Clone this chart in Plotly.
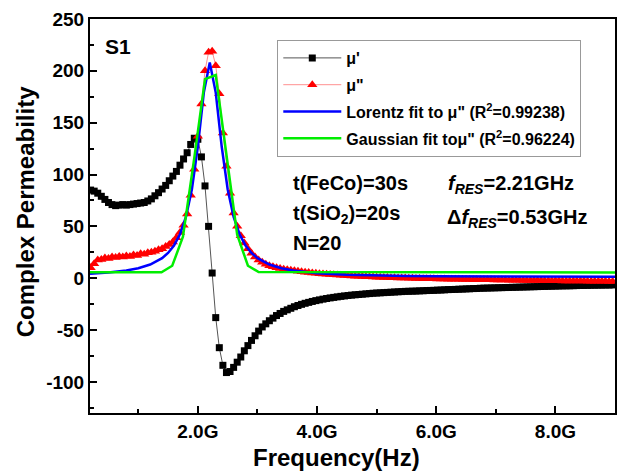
import plotly.graph_objects as go

# ---------------- data ----------------
freq_ghz = [
    0.20, 0.26, 0.32, 0.38, 0.44, 0.50, 0.56, 0.62, 0.68, 0.74,
    0.80, 0.86, 0.92, 0.98, 1.04, 1.10, 1.16, 1.22, 1.28, 1.34,
    1.40, 1.46, 1.52, 1.58, 1.64, 1.70, 1.76, 1.82, 1.88, 1.94,
    2.00, 2.06, 2.12, 2.18, 2.24, 2.30, 2.36, 2.42, 2.48, 2.54,
    2.60, 2.66, 2.72, 2.78, 2.84, 2.90, 2.96, 3.02, 3.08, 3.14,
    3.20, 3.26, 3.32, 3.38, 3.44, 3.50, 3.56, 3.62, 3.68, 3.74,
    3.80, 3.86, 3.92, 3.98, 4.04, 4.10, 4.16, 4.22, 4.28, 4.34,
    4.40, 4.46, 4.52, 4.58, 4.64, 4.70, 4.76, 4.82, 4.88, 4.94,
    5.00, 5.06, 5.12, 5.18, 5.24, 5.30, 5.36, 5.42, 5.48, 5.54,
    5.60, 5.66, 5.72, 5.78, 5.84, 5.90, 5.96, 6.02, 6.08, 6.14,
    6.20, 6.26, 6.32, 6.38, 6.44, 6.50, 6.56, 6.62, 6.68, 6.74,
    6.80, 6.86, 6.92, 6.98, 7.04, 7.10, 7.16, 7.22, 7.28, 7.34,
    7.40, 7.46, 7.52, 7.58, 7.64, 7.70, 7.76, 7.82, 7.88, 7.94,
    8.00, 8.06, 8.12, 8.18, 8.24, 8.30, 8.36, 8.42, 8.48, 8.54,
    8.60, 8.66, 8.72, 8.78, 8.84, 8.90, 8.96,
]

mu_real = [
    85, 84, 82, 79, 76, 73, 71, 70, 70.5, 71,
    70.5, 71, 71.5, 72, 72.5, 73, 74.5, 76.5, 79.5, 82.5,
    86, 89.5, 94, 98.5, 103, 109, 115, 121, 129, 135,
    134, 117, 89, 50, 5, -38, -67, -84, -91, -90,
    -86, -81, -76, -70, -65, -60, -55.5, -51, -47, -44,
    -41, -38.5, -36, -34, -32, -30.5, -29, -27.5, -26.3, -25.2,
    -24.2, -23.3, -22.4, -21.6, -20.9, -20.2, -19.6, -19, -18.5, -18,
    -17.5, -17.1, -16.7, -16.3, -16, -15.7, -15.4, -15.1, -14.8, -14.5,
    -14.3, -14.1, -13.9, -13.7, -13.5, -13.3, -13.1, -12.9, -12.7, -12.6,
    -12.5, -12.4, -12.2, -12.1, -11.9, -11.8, -11.7, -11.5, -11.4, -11.2,
    -11.0, -10.9, -10.8, -10.6, -10.5, -10.3, -10.2, -10.0, -9.9, -9.7,
    -9.6, -9.5, -9.4, -9.3, -9.2, -9.1, -9.0, -8.9, -8.8, -8.7,
    -8.6, -8.5, -8.4, -8.3, -8.2, -8.1, -8.0, -7.9, -7.8, -7.7,
    -7.6, -7.5, -7.4, -7.35, -7.3, -7.2, -7.1, -7.0, -6.95, -6.9,
    -6.8, -6.75, -6.7, -6.65, -6.6, -6.55, -6.5,
]

mu_imag = [
    10, 14, 17.5, 18, 19.5, 19, 20.5, 20, 21, 20.5,
    21.5, 21, 22.5, 22, 23.5, 23, 24.5, 25, 26, 27.5,
    28.5, 30.5, 32.5, 35, 39, 44, 51, 62, 80, 105,
    137, 168, 200, 218, 219, 205, 178, 140, 108, 82,
    63, 50, 41, 34, 28.5, 24, 20.5, 17.5, 15.5, 13.5,
    12, 11, 10, 9.3, 8.7, 8.1, 7.6, 7.1, 6.6, 6.2,
    5.8, 5.4, 5.0, 4.7, 4.4, 4.1, 3.8, 3.5, 3.3, 3.0,
    2.8, 2.6, 2.4, 2.2, 2.0, 1.8, 1.6, 1.5, 1.3, 1.2,
    1.0, 0.9, 0.8, 0.6, 0.5, 0.4, 0.3, 0.2, 0.1, 0.0,
    -0.1, -0.2, -0.3, -0.4, -0.5, -0.5, -0.6, -0.7, -0.8, -0.8,
    -0.9, -1.0, -1.0, -1.1, -1.2, -1.2, -1.3, -1.4, -1.4, -1.5,
    -1.5, -1.6, -1.6, -1.7, -1.7, -1.8, -1.8, -1.9, -1.9, -2.0,
    -2.0, -2.1, -2.1, -2.2, -2.2, -2.3, -2.3, -2.4, -2.4, -2.5,
    -2.5, -2.5, -2.6, -2.6, -2.7, -2.7, -2.7, -2.8, -2.8, -2.9,
    -2.9, -2.9, -3.0, -3.0, -3.0, -3.1, -3.1,
]

lorentz_freq = [0.19, 0.5, 0.8, 1.0, 1.2, 1.4, 1.5, 1.6, 1.7, 1.8, 1.9, 2.0, 2.1, 2.2,
                2.3, 2.4, 2.5, 2.6, 2.7, 2.8, 2.9, 3.0, 3.2, 3.4, 3.6, 3.8, 4.0, 4.5,
                5.0, 5.5, 6.0, 7.0, 8.0, 9.0]
lorentz_fit = [4.2, 5.4, 7.4, 9.6, 13.2, 19.4, 24.4, 31.6, 42.4, 59.1, 85.8, 127, 179, 208,
               179, 127, 85.8, 59.1, 42.4, 31.6, 24.4, 19.4, 13.2, 9.6, 7.4, 5.9, 4.9, 3.4,
               2.6, 2.2, 1.9, 1.6, 1.4, 1.3]

gauss_freq = [0.19, 1.39, 1.57, 1.75, 1.94, 2.12, 2.30, 2.48, 2.66, 2.84, 3.02, 9.0]
gauss_fit = [5.8, 5.8, 12, 40, 116, 192, 196, 118, 42, 12, 6, 5.5]

x_tick_vals = [2, 4, 6, 8]
x_tick_text = ["2.0G", "4.0G", "6.0G", "8.0G"]
x_minor_vals = [1, 3, 5, 7]
y_tick_vals = [-100, -50, 0, 50, 100, 150, 200, 250]
y_tick_text = ["-100", "-50", "0", "50", "100", "150", "200", "250"]
y_minor_vals = [-125, -75, -25, 25, 75, 125, 175, 225]

# ---------------- figure ----------------
FONT = "Liberation Sans, Arial, sans-serif"
L, R, T, B = 90, 2, 19, 59
W, H = 619, 472
pw, ph = W - L - R, H - T - B


def px_x(x):
    return (x - L) / pw


def px_y(y):
    return (H - B - y) / ph


fig = go.Figure()
fig.add_trace(go.Scatter(
    x=freq_ghz, y=mu_real, mode="lines+markers", name="μ'",
    line=dict(color="#555555", width=1),
    marker=dict(symbol="square", size=7, color="black"),
    legendgroup="g1"))
fig.add_trace(go.Scatter(
    x=freq_ghz, y=mu_imag, mode="lines+markers", name='μ"',
    line=dict(color="#ff9090", width=1),
    marker=dict(symbol="triangle-up", size=9, color="#ff0000"),
    legendgroup="g2"))
fig.add_trace(go.Scatter(
    x=lorentz_freq, y=lorentz_fit, mode="lines",
    name='Lorentz fit to μ" (R<sup>2</sup>=0.99238)',
    line=dict(color="#0000ff", width=2.5), legendgroup="g3"))
fig.add_trace(go.Scatter(
    x=gauss_freq, y=gauss_fit, mode="lines",
    name='Gaussian fit toμ" (R<sup>2</sup>=0.96224)',
    line=dict(color="#00ee00", width=2.5), legendgroup="g4"))

axis_common = dict(
    showline=True, linecolor="black", linewidth=2, mirror=True,
    ticks="inside", ticklen=7, tickwidth=2, tickcolor="black",
    showgrid=False, zeroline=False,
    tickfont=dict(family=FONT, size=19, color="black", weight="bold"),
)

fig.update_xaxes(
    range=[0.19, 9.0], tickmode="array", tickvals=x_tick_vals, ticktext=x_tick_text,
    minor=dict(tickmode="array", tickvals=x_minor_vals, ticks="inside", ticklen=4,
               tickwidth=2, tickcolor="black"),
    **axis_common)
fig.update_yaxes(
    range=[-130, 250], tickmode="array", tickvals=y_tick_vals, ticktext=y_tick_text,
    minor=dict(tickmode="array", tickvals=y_minor_vals, ticks="inside", ticklen=4,
               tickwidth=2, tickcolor="black"),
    **axis_common)

ann_font = dict(family=FONT, size=20, color="black", weight="bold")
annotations = [
    dict(text="S1", x=px_x(118), y=px_y(46), font=dict(family=FONT, size=21, color="black", weight="bold")),
    dict(text="t(FeCo)=30s", x=px_x(292), y=px_y(183), xanchor="left", font=ann_font),
    dict(text="t(SiO<sub>2</sub>)=20s", x=px_x(292), y=px_y(214), xanchor="left", font=ann_font),
    dict(text="N=20", x=px_x(292), y=px_y(243), xanchor="left", font=ann_font),
    dict(text="<i>f</i><sub><i>RES</i></sub>=2.21GHz", x=px_x(447), y=px_y(184), xanchor="left", font=ann_font),
    dict(text="Δ<i>f</i><sub><i>RES</i></sub>=0.53GHz", x=px_x(446), y=px_y(218), xanchor="left", font=ann_font),
    dict(text="Frequency(Hz)", x=px_x(337), y=px_y(457), font=dict(family=FONT, size=24, color="black", weight="bold")),
    dict(text="Complex Permeability", x=px_x(25), y=px_y(212), textangle=-90,
         font=dict(family=FONT, size=24, color="black", weight="bold")),
]
for a in annotations:
    a.setdefault("xanchor", "center")
    a.update(xref="paper", yref="paper", yanchor="middle", showarrow=False)

fig.update_layout(
    width=W, height=H,
    margin=dict(l=L, r=R, t=T, b=B),
    paper_bgcolor="white", plot_bgcolor="white",
    showlegend=True,
    legend=dict(
        x=px_x(278), y=px_y(40), xanchor="left", yanchor="top",
        bgcolor="white", bordercolor="#999999", borderwidth=1,
        font=dict(family=FONT, size=16, color="black", weight="bold"),
        tracegroupgap=3, itemwidth=58,
    ),
    annotations=annotations,
)

fig.write_html(
    "out.html",
    config={"displayModeBar": False},
    post_script="document.body.style.margin='0';document.body.style.overflow='hidden';",
)
